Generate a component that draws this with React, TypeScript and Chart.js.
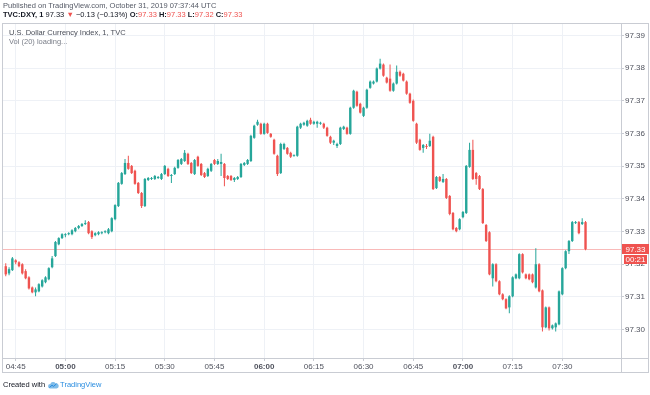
import React, { useEffect, useRef } from "react";
import { Chart, registerables } from "chart.js";

Chart.register(...registerables);

// 1-minute candles, first candle at 04:42 (minutes since midnight)
const firstCandleMinute = 282;

const opens = [
  97.3194, 97.3172, 97.3182, 97.3212, 97.3206, 97.3200, 97.3179, 97.3160, 97.3129, 97.3114,
  97.3117, 97.3132, 97.3145, 97.3154, 97.3191, 97.3225, 97.3261, 97.3280, 97.3289, 97.3292, 97.3292,
  97.3301, 97.3311, 97.3317, 97.3323,
  97.3329, 97.3301, 97.3289, 97.3292, 97.3295, 97.3298, 97.3295, 97.3301, 97.3338, 97.3378, 97.3446,
  97.3476, 97.3510, 97.3501, 97.3486, 97.3449, 97.3418, 97.3378, 97.3458, 97.3461, 97.3461,
  97.3464, 97.3461, 97.3476, 97.3492, 97.3470, 97.3476, 97.3495, 97.3507, 97.3516, 97.3538,
  97.3510, 97.3476, 97.3529, 97.3507, 97.3479, 97.3470, 97.3486, 97.3519, 97.3507, 97.3507,
  97.3507, 97.3470, 97.3470, 97.3458, 97.3461, 97.3467, 97.3504, 97.3507, 97.3516, 97.3587,
  97.3627, 97.3630, 97.3599, 97.3630, 97.3599, 97.3581, 97.3532, 97.3479, 97.3553, 97.3556,
  97.3541, 97.3532, 97.3532, 97.3618, 97.3627, 97.3624, 97.3642, 97.3630, 97.3630, 97.3630,
  97.3630, 97.3618, 97.3590, 97.3572, 97.3562, 97.3568, 97.3614, 97.3618, 97.3599, 97.3679,
  97.3728, 97.3691, 97.3654, 97.3679, 97.3740, 97.3753, 97.3759, 97.3799, 97.3811, 97.3771,
  97.3768, 97.3731, 97.3753, 97.3789, 97.3783, 97.3759, 97.3722, 97.3700, 97.3630, 97.3581,
  97.3556, 97.3562, 97.3562, 97.3590, 97.3433, 97.3467, 97.3452, 97.3461, 97.3409, 97.3357,
  97.3311, 97.3307, 97.3344, 97.3357, 97.3498, 97.3550, 97.3479, 97.3470, 97.3430, 97.3320,
  97.3298, 97.3157, 97.3200, 97.3148, 97.3108, 97.3093, 97.3068, 97.3102, 97.3157, 97.3157,
  97.3231, 97.3169, 97.3169, 97.3169, 97.3129, 97.3200, 97.3120, 97.3007, 97.3068, 97.3004,
  97.3007, 97.3016, 97.3108, 97.3188, 97.3240, 97.3271, 97.3326, 97.3329, 97.3323, 97.3329,
];

const highs = [
  97.3203, 97.3191, 97.3222, 97.3215, 97.3209, 97.3203, 97.3185, 97.3163, 97.3132, 97.3129,
  97.3142, 97.3154, 97.3163, 97.3191, 97.3225, 97.3271, 97.3283, 97.3295, 97.3295, 97.3298, 97.3307,
  97.3314, 97.3320, 97.3326, 97.3335,
  97.3332, 97.3304, 97.3298, 97.3301, 97.3301, 97.3304, 97.3311, 97.3344, 97.3384, 97.3452, 97.3482,
  97.3522, 97.3532, 97.3504, 97.3489, 97.3452, 97.3421, 97.3464, 97.3467, 97.3467, 97.3473,
  97.3470, 97.3479, 97.3504, 97.3495, 97.3476, 97.3498, 97.3522, 97.3525, 97.3550, 97.3541,
  97.3513, 97.3522, 97.3532, 97.3510, 97.3482, 97.3495, 97.3510, 97.3522, 97.3522, 97.3538,
  97.3510, 97.3473, 97.3473, 97.3467, 97.3470, 97.3510, 97.3513, 97.3522, 97.3596, 97.3627,
  97.3642, 97.3633, 97.3633, 97.3633, 97.3602, 97.3584, 97.3535, 97.3572, 97.3572, 97.3559,
  97.3544, 97.3535, 97.3624, 97.3633, 97.3636, 97.3642, 97.3648, 97.3639, 97.3639, 97.3636,
  97.3633, 97.3621, 97.3593, 97.3581, 97.3572, 97.3621, 97.3624, 97.3621, 97.3682, 97.3734,
  97.3731, 97.3694, 97.3682, 97.3737, 97.3762, 97.3762, 97.3802, 97.3829, 97.3814, 97.3774,
  97.3811, 97.3756, 97.3808, 97.3793, 97.3786, 97.3762, 97.3725, 97.3704, 97.3633, 97.3584,
  97.3568, 97.3568, 97.3599, 97.3593, 97.3470, 97.3470, 97.3476, 97.3464, 97.3412, 97.3360,
  97.3314, 97.3341, 97.3363, 97.3504, 97.3572, 97.3581, 97.3482, 97.3473, 97.3433, 97.3323,
  97.3301, 97.3203, 97.3203, 97.3151, 97.3111, 97.3096, 97.3105, 97.3163, 97.3172, 97.3234,
  97.3234, 97.3172, 97.3172, 97.3172, 97.3249, 97.3203, 97.3123, 97.3071, 97.3071, 97.3016,
  97.3022, 97.3120, 97.3191, 97.3243, 97.3274, 97.3332, 97.3332, 97.3332, 97.3341, 97.3332,
];

const lows = [
  97.3163, 97.3166, 97.3179, 97.3200, 97.3191, 97.3169, 97.3154, 97.3123, 97.3111, 97.3102,
  97.3114, 97.3129, 97.3142, 97.3151, 97.3188, 97.3222, 97.3258, 97.3277, 97.3283, 97.3289, 97.3289,
  97.3298, 97.3307, 97.3314, 97.3320,
  97.3292, 97.3277, 97.3286, 97.3289, 97.3292, 97.3295, 97.3292, 97.3298, 97.3335, 97.3375, 97.3443,
  97.3473, 97.3489, 97.3476, 97.3443, 97.3415, 97.3372, 97.3375, 97.3455, 97.3458, 97.3458,
  97.3461, 97.3458, 97.3473, 97.3467, 97.3449, 97.3473, 97.3492, 97.3504, 97.3513, 97.3504,
  97.3476, 97.3473, 97.3498, 97.3470, 97.3464, 97.3467, 97.3482, 97.3504, 97.3504, 97.3470,
  97.3439, 97.3458, 97.3455, 97.3452, 97.3458, 97.3464, 97.3501, 97.3504, 97.3513, 97.3584,
  97.3624, 97.3596, 97.3596, 97.3599, 97.3587, 97.3535, 97.3470, 97.3476, 97.3550, 97.3535,
  97.3525, 97.3529, 97.3529, 97.3614, 97.3624, 97.3621, 97.3627, 97.3627, 97.3618, 97.3627,
  97.3614, 97.3590, 97.3568, 97.3565, 97.3556, 97.3565, 97.3611, 97.3596, 97.3596, 97.3676,
  97.3682, 97.3661, 97.3651, 97.3676, 97.3737, 97.3750, 97.3756, 97.3796, 97.3774, 97.3753,
  97.3728, 97.3728, 97.3750, 97.3774, 97.3759, 97.3719, 97.3691, 97.3636, 97.3568, 97.3547,
  97.3541, 97.3553, 97.3559, 97.3427, 97.3430, 97.3452, 97.3449, 97.3400, 97.3350, 97.3304,
  97.3298, 97.3304, 97.3341, 97.3354, 97.3495, 97.3458, 97.3443, 97.3427, 97.3323, 97.3268,
  97.3166, 97.3132, 97.3145, 97.3105, 97.3090, 97.3062, 97.3050, 97.3099, 97.3154, 97.3154,
  97.3172, 97.3154, 97.3151, 97.3142, 97.3126, 97.3114, 97.2994, 97.3004, 97.2997, 97.3000,
  97.2994, 97.3013, 97.3105, 97.3185, 97.3231, 97.3268, 97.3323, 97.3292, 97.3320, 97.3243,
];

const closes = [
  97.3169, 97.3185, 97.3218, 97.3206, 97.3194, 97.3172, 97.3157, 97.3126, 97.3114, 97.3123,
  97.3139, 97.3151, 97.3160, 97.3188, 97.3218, 97.3268, 97.3280, 97.3292, 97.3292, 97.3295, 97.3304,
  97.3311, 97.3317, 97.3323, 97.3326,
  97.3295, 97.3283, 97.3295, 97.3298, 97.3298, 97.3301, 97.3307, 97.3341, 97.3381, 97.3449, 97.3479,
  97.3510, 97.3492, 97.3479, 97.3446, 97.3418, 97.3378, 97.3461, 97.3464, 97.3464, 97.3470,
  97.3467, 97.3476, 97.3501, 97.3470, 97.3473, 97.3495, 97.3519, 97.3522, 97.3541, 97.3507,
  97.3479, 97.3519, 97.3501, 97.3473, 97.3467, 97.3492, 97.3507, 97.3507, 97.3516, 97.3513,
  97.3464, 97.3461, 97.3458, 97.3464, 97.3467, 97.3507, 97.3510, 97.3519, 97.3593, 97.3624,
  97.3636, 97.3599, 97.3630, 97.3602, 97.3590, 97.3538, 97.3476, 97.3568, 97.3568, 97.3538,
  97.3529, 97.3532, 97.3621, 97.3630, 97.3633, 97.3639, 97.3630, 97.3636, 97.3636, 97.3633,
  97.3618, 97.3593, 97.3572, 97.3578, 97.3568, 97.3618, 97.3621, 97.3599, 97.3679, 97.3731,
  97.3685, 97.3664, 97.3679, 97.3734, 97.3759, 97.3759, 97.3799, 97.3814, 97.3777, 97.3756,
  97.3731, 97.3753, 97.3789, 97.3777, 97.3762, 97.3722, 97.3694, 97.3639, 97.3572, 97.3550,
  97.3565, 97.3559, 97.3578, 97.3430, 97.3467, 97.3455, 97.3461, 97.3403, 97.3354, 97.3307,
  97.3301, 97.3338, 97.3360, 97.3501, 97.3550, 97.3461, 97.3461, 97.3430, 97.3326, 97.3271,
  97.3169, 97.3200, 97.3148, 97.3108, 97.3093, 97.3065, 97.3102, 97.3160, 97.3169, 97.3231,
  97.3175, 97.3157, 97.3154, 97.3145, 97.3200, 97.3117, 97.3007, 97.3068, 97.3004, 97.3013,
  97.3019, 97.3117, 97.3188, 97.3240, 97.3271, 97.3329, 97.3329, 97.3295, 97.3329, 97.3246,
];

const timeTicks = [285, 300, 315, 330, 345, 360, 375, 390, 405, 420, 435, 450];
const priceTicks = [97.3, 97.31, 97.32, 97.33, 97.34, 97.35, 97.36, 97.37, 97.38, 97.39];
const lastPriceLabel = "97.33";
const countdownLabel = "00:21";

const UP = "#26a69a";
const DOWN = "#ef5350";
const FONT = "'Liberation Sans', Arial, sans-serif";
const AXIS_TEXT = "#50535e";

function fmtTime(v: number) {
  const h = Math.floor(v / 60);
  const m = Math.round(v % 60);
  return String(h).padStart(2, "0") + ":" + String(m).padStart(2, "0");
}

export default function App() {
  const ref = useRef<HTMLCanvasElement>(null);

  useEffect(() => {
    document.body.style.margin = "0";
    const canvas = ref.current;
    if (!canvas) return;
    const n = Math.min(opens.length, highs.length, lows.length, closes.length);
    const xs: number[] = [];
    for (let i = 0; i < n; i++) xs.push(firstCandleMinute + i);
    const colors = xs.map((_, i) => (closes[i] >= opens[i] ? UP : DOWN));
    const bodies = xs.map((x, i) => ({ x, y: [opens[i], closes[i]] }));
    const wicks = xs.map((x, i) => ({
      x,
      y: [Math.min(lows[i], opens[i], closes[i]), Math.max(highs[i], opens[i], closes[i])],
    }));
    const lastClose = closes[n - 1];

    const tvPlugin = {
      id: "tvDecor",
      beforeDatasetsDraw(chart: any) {
        const { ctx, chartArea, scales } = chart;
        const y = Math.round(scales.y.getPixelForValue(lastClose)) + 0.5;
        ctx.save();
        ctx.strokeStyle = "rgba(239,83,80,0.4)";
        ctx.lineWidth = 1;
        ctx.beginPath();
        ctx.moveTo(chartArea.left, y);
        ctx.lineTo(chartArea.right, y);
        ctx.stroke();
        ctx.restore();
      },
      afterDraw(chart: any) {
        const { ctx, chartArea, scales } = chart;
        ctx.save();
        // outer frame
        ctx.strokeStyle = "#c9ccd3";
        ctx.lineWidth = 1;
        ctx.strokeRect(2.5, 23.5, 646, 349);
        ctx.beginPath();
        ctx.moveTo(2.5, chartArea.bottom + 0.5);
        ctx.lineTo(648.5, chartArea.bottom + 0.5);
        ctx.moveTo(chartArea.right + 0.5, 23.5);
        ctx.lineTo(chartArea.right + 0.5, 372.5);
        ctx.stroke();
        // last price + countdown labels
        const y = Math.round(scales.y.getPixelForValue(lastClose));
        ctx.fillStyle = DOWN;
        ctx.fillRect(chartArea.right + 1, y - 5, 27, 10);
        ctx.fillRect(chartArea.right + 3, y + 6, 23, 9);
        ctx.fillStyle = "#ffffff";
        ctx.font = "8px " + FONT;
        ctx.textAlign = "center";
        ctx.textBaseline = "middle";
        ctx.fillText(lastPriceLabel, chartArea.right + 14.5, y + 0.5);
        ctx.fillText(countdownLabel, chartArea.right + 14.5, y + 11);
        ctx.restore();
      },
    };

    const chart = new Chart(canvas, {
      type: "bar",
      data: {
        datasets: [
          {
            data: bodies as any,
            backgroundColor: colors,
            barThickness: 2.4,
            minBarLength: 1,
            grouped: false,
            borderWidth: 0,
            inflateAmount: 0,
          } as any,
          {
            data: wicks as any,
            backgroundColor: colors,
            barThickness: 1,
            grouped: false,
            borderWidth: 0,
            inflateAmount: 0,
          } as any,
        ],
      },
      options: {
        animation: false,
        responsive: false,
        maintainAspectRatio: false,
        devicePixelRatio: 1,
        layout: { padding: { left: 3, top: 23, right: 1, bottom: 22 } },
        plugins: { legend: { display: false }, tooltip: { enabled: false } },
        scales: {
          x: {
            type: "linear",
            position: "bottom",
            min: 281.17,
            max: 467.71,
            offset: false,
            afterFit: (s: any) => {
              s.height = 15;
            },
            afterBuildTicks: (s: any) => {
              s.ticks = timeTicks.map((v) => ({ value: v }));
            },
            grid: { color: "#eef1f6", tickColor: "#c9ccd3", tickLength: 3, offset: false },
            border: { display: true, color: "#c9ccd3" },
            ticks: {
              autoSkip: false,
              maxRotation: 0,
              padding: 1,
              color: AXIS_TEXT,
              callback: (v: any) => fmtTime(Number(v)),
              font: (ctx: any) => ({
                family: FONT,
                size: 8,
                weight: ctx.tick && ctx.tick.value % 60 === 0 ? "bold" : "normal",
              }),
            },
          } as any,
          y: {
            type: "linear",
            position: "right",
            min: 97.29131,
            max: 97.39383,
            afterFit: (s: any) => {
              s.width = 28;
            },
            afterBuildTicks: (s: any) => {
              s.ticks = priceTicks.map((v) => ({ value: v }));
            },
            grid: { color: "#eef1f6", tickColor: "#c9ccd3", tickLength: 3 },
            border: { display: true, color: "#c9ccd3" },
            ticks: {
              padding: 1,
              color: AXIS_TEXT,
              callback: (v: any) => Number(v).toFixed(2),
              font: { family: FONT, size: 8 },
            },
          } as any,
        },
      },
      plugins: [tvPlugin],
    });
    return () => chart.destroy();
  }, []);

  const red = { color: DOWN };
  return (
    <div
      style={{
        position: "relative",
        width: 650,
        height: 395,
        background: "#ffffff",
        overflow: "hidden",
        fontFamily: FONT,
      }}
    >
      <canvas ref={ref} width={650} height={395} style={{ position: "absolute", left: 0, top: 0 }} />
      <div style={{ position: "absolute", left: 3, top: 1, fontSize: 7.5, lineHeight: "10px", color: "#555a66", whiteSpace: "nowrap" }}>
        Published on TradingView.com, October 31, 2019 07:37:44 UTC
      </div>
      <div style={{ position: "absolute", left: 3, top: 10, fontSize: 7.5, lineHeight: "10px", color: "#131722", whiteSpace: "nowrap" }}>
        <b>TVC:DXY, 1</b> 97.33 <span style={red}>▼</span> −0.13 (−0.13%) <b>O:</b>
        <span style={red}>97.33</span> <b>H:</b>
        <span style={red}>97.33</span> <b>L:</b>
        <span style={red}>97.32</span> <b>C:</b>
        <span style={red}>97.33</span>
      </div>
      <div style={{ position: "absolute", left: 9, top: 28, fontSize: 7.5, lineHeight: "10px", color: "#4a4e59", whiteSpace: "nowrap" }}>
        U.S. Dollar Currency Index, 1, TVC
      </div>
      <div style={{ position: "absolute", left: 9, top: 37, fontSize: 7.5, lineHeight: "10px", color: "#7a7e88", whiteSpace: "nowrap" }}>
        Vol (20) loading...
      </div>
      <div style={{ position: "absolute", left: 3, top: 380, fontSize: 7.5, lineHeight: "10px", color: "#131722", whiteSpace: "nowrap", display: "flex", alignItems: "center" }}>
        <span>Created with</span>
        <svg width="11" height="8" viewBox="0 0 11 8" style={{ margin: "0 1px 0 3px" }}>
          <path d="M2.5 7.5 A2.3 2.3 0 0 1 2.3 2.9 A3 3 0 0 1 7.6 2.2 A2.7 2.7 0 0 1 8.6 7.5 Z" fill="#7fbce9" />
          <path d="M1.5 6.5 L4 4.2 L5.5 5.4 L8.5 2.8" stroke="#2a8de0" strokeWidth="1" fill="none" />
        </svg>
        <span style={{ color: "#2a8de0" }}>TradingView</span>
      </div>
    </div>
  );
}
